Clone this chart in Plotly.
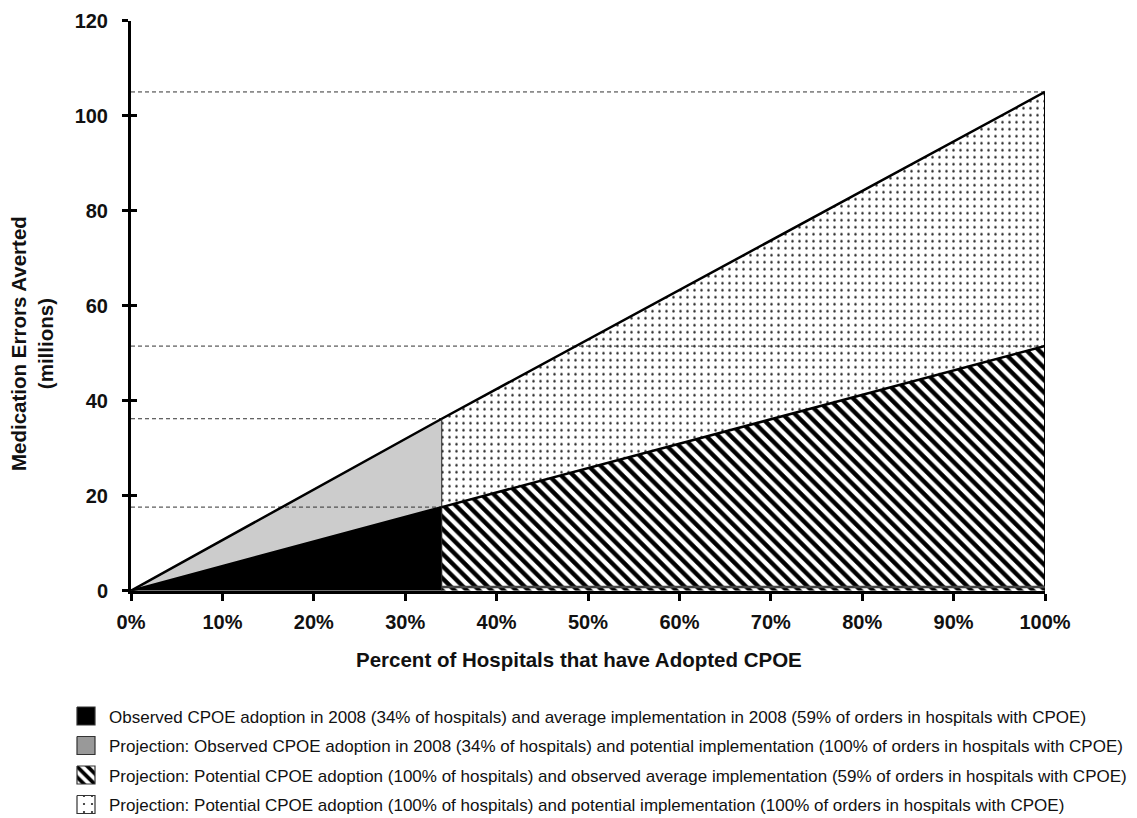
import plotly.graph_objects as go

# ---- data ----
adoption = [0.0, 0.34, 1.0]                 # share of hospitals with CPOE
errors_observed_impl = [0.0, 17.6, 51.5]    # millions, 59% implementation
errors_potential_impl = [0.0, 36.2, 105.0]  # millions, 100% implementation

legend_labels = [
    "Observed CPOE adoption in 2008 (34% of hospitals) and average implementation in 2008 (59% of orders in hospitals with CPOE)",
    "Projection: Observed CPOE adoption in 2008 (34% of hospitals) and potential implementation (100% of orders in hospitals with CPOE)",
    "Projection: Potential CPOE adoption (100% of hospitals) and observed average implementation (59% of orders in hospitals with CPOE)",
    "Projection: Potential CPOE adoption (100% of hospitals) and potential implementation (100% of orders in hospitals with CPOE)",
]
x_ticks = [0, 0.1, 0.2, 0.3, 0.4, 0.5, 0.6, 0.7, 0.8, 0.9, 1.0]
y_ticks = [0, 20, 40, 60, 80, 100, 120]

# ---- layout constants (figure pixels; page body adds an 8px offset) ----
FONT = "Liberation Sans, Arial, sans-serif"
W, H = 1129, 810
PL, PR, PT, PB = 123, 1037, 12.7, 582.7      # plot area edges
LEG_X, LEG_Y0, LEG_DY, SW = 69, 708, 29.5, 18  # legend swatch left, first row centre, spacing, size
LEG_TXT_X = 99

x_dom = [PL / W, PR / W]
y_dom = [1 - PB / H, 1 - PT / H]

x0, xo, x1 = adoption
lo0, lo_o, lo1 = errors_observed_impl
hi0, hi_o, hi1 = errors_potential_impl

HATCH = dict(shape="\\", size=8.7, solidity=0.5, fgcolor="black", bgcolor="white", fgopacity=1)
DOTS = dict(shape=".", size=7, solidity=0.1, fgcolor="#222222", bgcolor="white", fgopacity=1)

fig = go.Figure()

# region polygons built from the data
black_poly = ([x0, xo, xo, x0], [lo0, lo_o, 0, lo0])
gray_poly = ([x0, xo, xo, x0], [hi0, hi_o, lo_o, lo0])
hatch_poly = ([xo, x1, x1, xo, xo], [lo_o, lo1, 0, 0, lo_o])
dot_poly = ([xo, x1, x1, xo, xo], [hi_o, hi1, lo1, lo_o, hi_o])

fig.add_trace(go.Scatter(x=dot_poly[0], y=dot_poly[1], fill="toself", mode="lines",
                         line=dict(width=0), fillcolor="white", fillpattern=DOTS,
                         showlegend=False, hoverinfo="skip"))
fig.add_trace(go.Scatter(x=hatch_poly[0], y=hatch_poly[1], fill="toself", mode="lines",
                         line=dict(width=0), fillcolor="white", fillpattern=HATCH,
                         showlegend=False, hoverinfo="skip"))
fig.add_trace(go.Scatter(x=gray_poly[0], y=gray_poly[1], fill="toself", mode="lines",
                         line=dict(width=0), fillcolor="#cccccc",
                         showlegend=False, hoverinfo="skip"))
fig.add_trace(go.Scatter(x=black_poly[0], y=black_poly[1], fill="toself", mode="lines",
                         line=dict(width=0), fillcolor="black",
                         showlegend=False, hoverinfo="skip"))

# dashed reference lines
dash_style = dict(color="#333333", width=1, dash="4px,3px")
for xv, yv in [(x1, hi1), (x1, lo1), (xo, hi_o), (xo, lo_o)]:
    fig.add_trace(go.Scatter(x=[x0, xv], y=[yv, yv], mode="lines", line=dash_style,
                             showlegend=False, hoverinfo="skip"))

# outlines
fig.add_trace(go.Scatter(x=adoption, y=errors_potential_impl, mode="lines",
                         line=dict(color="black", width=2.5), showlegend=False, hoverinfo="skip"))
fig.add_trace(go.Scatter(x=adoption, y=errors_observed_impl, mode="lines",
                         line=dict(color="black", width=2.5), showlegend=False, hoverinfo="skip"))
fig.add_trace(go.Scatter(x=[x1, x1], y=[0, hi1], mode="lines",
                         line=dict(color="black", width=2), showlegend=False, hoverinfo="skip"))
fig.add_trace(go.Scatter(x=[xo, xo], y=[0, hi_o], mode="lines",
                         line=dict(color="#222222", width=1), showlegend=False, hoverinfo="skip"))
fig.add_trace(go.Scatter(x=[xo, x1], y=[0.8, 0.8], mode="lines",
                         line=dict(color="#444444", width=2.5), showlegend=False, hoverinfo="skip"))

# invisible trace so the inner-tick overlay axis is drawn
fig.add_trace(go.Scatter(x=[x0], y=[0], yaxis="y3", mode="markers", marker=dict(opacity=0),
                         showlegend=False, hoverinfo="skip"))

# ---- custom legend (swatches on a pixel overlay axis, labels as text) ----
swatch_styles = [
    dict(fillcolor="black"),
    dict(fillcolor="#999999"),
    dict(fillcolor="white", fillpattern=dict(HATCH, size=7.5, solidity=0.5)),
    dict(fillcolor="white", fillpattern=dict(DOTS, size=8, solidity=0.06)),
]
annotations = []
for i, (lab, st) in enumerate(zip(legend_labels, swatch_styles)):
    cy = LEG_Y0 + i * LEG_DY
    xs = [LEG_X, LEG_X + SW, LEG_X + SW, LEG_X, LEG_X]
    ys = [cy - SW / 2, cy - SW / 2, cy + SW / 2, cy + SW / 2, cy - SW / 2]
    fig.add_trace(go.Scatter(x=xs, y=ys, xaxis="x2", yaxis="y2", fill="toself", mode="lines",
                             line=dict(color="#333333", width=1.2), showlegend=False,
                             hoverinfo="skip", **st))
    annotations.append(dict(text=lab, xref="x2", yref="y2", x=LEG_TXT_X, y=cy + 1,
                            xanchor="left", yanchor="middle", showarrow=False,
                            font=dict(size=17, family=FONT, color="#111111")))

annotations.append(dict(text="<b>Medication Errors Averted<br>(millions)</b>", xref="x2", yref="y2",
                        x=24, y=336, textangle=-90, showarrow=False,
                        xanchor="center", yanchor="middle",
                        font=dict(size=20.5, family=FONT, color="#111111")))
annotations.append(dict(text="<b>Percent of Hospitals that have Adopted CPOE</b>", xref="x2", yref="y2",
                        x=571, y=651, showarrow=False, xanchor="center", yanchor="middle",
                        font=dict(size=20.5, family=FONT, color="#111111")))

fig.update_layout(
    width=W, height=H,
    margin=dict(l=0, r=0, t=0, b=0, autoexpand=False),
    plot_bgcolor="rgba(0,0,0,0)", paper_bgcolor="white",
    font=dict(family=FONT, color="black"),
    showlegend=False,
    annotations=annotations,
    xaxis=dict(domain=x_dom, range=[0, 1], tickvals=x_ticks, tickformat=".0%",
               showgrid=False, zeroline=False, showline=True, linecolor="black", linewidth=3,
               ticks="outside", ticklen=7, tickwidth=2.5, tickcolor="black",
               ticklabelstandoff=4,
               tickfont=dict(size=20, family=FONT, weight="bold", color="#111111")),
    yaxis=dict(domain=y_dom, range=[0, 120], tickvals=y_ticks,
               showgrid=False, zeroline=False, showline=True, linecolor="black", linewidth=3,
               ticks="outside", ticklen=6, tickwidth=2.5, tickcolor="black",
               ticklabelstandoff=10,
               tickfont=dict(size=20, family=FONT, weight="bold", color="#111111")),
    yaxis3=dict(overlaying="y", range=[0, 120], tickvals=y_ticks, ticks="inside", ticklen=6,
                tickwidth=2.5, tickcolor="black", showticklabels=False, showgrid=False,
                zeroline=False, showline=False, side="left", anchor="x"),
    xaxis2=dict(domain=[0, 1], range=[0, W], visible=False, anchor="y2"),
    yaxis2=dict(domain=[0, 1], range=[H, 0], visible=False, anchor="x2"),
)

fig.write_html("out.html")
